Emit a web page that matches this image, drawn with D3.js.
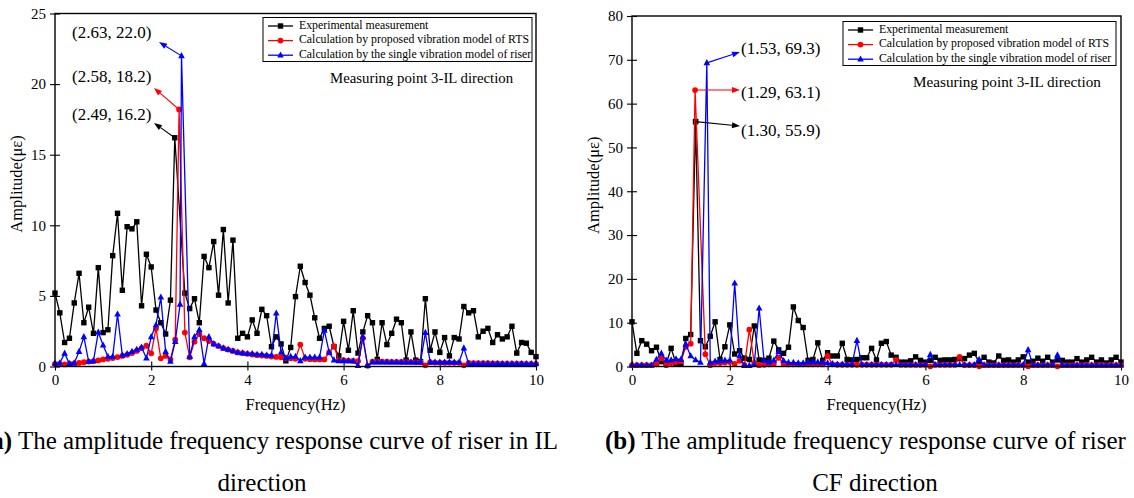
<!DOCTYPE html>
<html>
<head>
<meta charset="utf-8">
<script src="https://cdn.jsdelivr.net/npm/d3@7"></script>
<style>
  body { margin: 0; background: #fff; }
  svg { display: block; }
  text { font-family: "Liberation Serif", "Times New Roman", serif; fill: #000; }
</style>
</head>
<body>
<svg id="chart" width="1134" height="498"></svg>
<script>
// ---- Frequency grid (Hz), 0.1 Hz resolution ----
const freqGrid = d3.range(101).map(i => +(i / 10).toFixed(1));
const xTicks = [0, 2, 4, 6, 8, 10];

const seriesNames = [
  "Experimental measurement",
  "Calculation by proposed vibration model of RTS",
  "Calculation by the single vibration model of riser"
];
const seriesColors = ["#000000", "#ff0000", "#0000ff"];

// ---- (a) IL direction: amplitudes (με) on the grid, null where the peak sample replaces it ----
const ilExperimental = [
  5.2, 3.8, 1.7, 2.0, 4.5, 6.6, 3.1, 4.2, 2.35, 7.0,
  2.4, 2.6, 7.85, 10.85, 5.4, 9.9, 9.75, 10.25, 4.3, 7.95,
  7.05, 4.0, 3.1, 2.3, 4.7, null, null, 5.2, 4.1, 4.8,
  3.1, 7.8, 7.0, 8.85, 5.05, 9.7, 4.5, 8.95, 2.0, 2.35,
  2.1, 3.3, 2.35, 4.05, 3.6, 1.4, 2.1, 1.6, 0.4, 1.35,
  4.95, 7.1, 5.95, 5.05, 3.45, 2.0, 2.7, 2.85, 1.4, 0.75,
  3.2, 1.15, 3.95, 0.95, 2.45, 3.6, 3.1, 0.5, 3.1, 1.55,
  2.35, 3.35, 3.1, 0.45, 2.45, 0.45, 0.35, 4.8, 1.15, 2.45,
  1.0, 2.05, 0.75, 2.05, 1.95, 4.25, 3.8, 3.95, 2.1, 2.5,
  2.7, 1.7, 2.25, 1.95, 2.1, 2.85, 0.95, 1.7, 1.65, 1.0,
  0.7
];
const ilProposed = [
  0.18, 0.18, 0.15, 0.2, 0.2, 0.25, 0.3, 0.35, 0.38, 0.43,
  0.5, 0.55, 0.6, 0.67, 0.75, 0.83, 0.95, 1.1, 1.3, 1.47,
  0.93, 2.7, 0.58, 0.75, 0.5, 1.9, null, 2.4, 0.65, 1.76,
  2.3, 2.0, 1.8, 1.6, 1.45, 1.3, 1.2, 1.1, 1.0, 0.95,
  0.9, 0.85, 0.8, 0.78, 0.75, 0.7, 0.68, 0.65, 0.6, 0.58,
  0.55, 1.55, 0.55, 0.52, 0.5, 0.5, 0.5, 1.0, 1.45, 0.45,
  0.45, 0.42, 0.4, 0.38, 2.0, 0.05, 0.35, 0.35, 0.35, 0.34,
  0.33, 0.33, 0.32, 0.32, 0.31, 0.3, 0.3, 0.08, 0.3, 0.28,
  0.28, 0.27, 0.27, 0.26, 0.26, 0.08, 0.25, 0.24, 0.24, 0.23,
  0.23, 0.22, 0.22, 0.21, 0.21, 0.2, 0.2, 0.2, 0.19, 0.19,
  0.18
];
const ilSingle = [
  0.22, 0.25, 0.93, 0.2, 0.25, 1.05, 2.1, 0.35, 0.4, 2.43,
  1.5, 0.7, 0.7, 3.7, 0.8, 0.9, 1.05, 1.2, 1.36, 0.58,
  2.1, 2.94, 4.9, 1.05, 0.35, 1.76, 4.4, null, 0.7, 2.1,
  2.6, 0.2, 2.1, 1.6, 1.45, 1.3, 1.2, 1.1, 1.0, 0.95,
  0.9, 0.9, 0.85, 0.85, 0.8, 0.8, 3.77, 1.0, 0.6, 0.7,
  0.7, 0.4, 0.65, 0.65, 0.65, 0.65, 2.55, 1.0, 0.45, 0.4,
  0.4, 0.4, 0.38, 0.05, 2.1, 0.05, 0.3, 0.3, 0.3, 0.3,
  0.3, 0.3, 0.3, 0.3, 0.3, 0.3, 0.3, 2.4, 0.3, 0.3,
  0.3, 0.3, 0.3, 0.3, 0.3, 1.3, 0.2, 0.2, 0.2, 0.2,
  0.2, 0.2, 0.2, 0.2, 0.2, 0.2, 0.2, 0.2, 0.2, 0.2,
  0.2
];
// peak samples [frequency, amplitude]
const ilPeaks = [[2.49, 16.2], [2.58, 18.2], [2.63, 22.0]];
const ilYTicks = [0, 5, 10, 15, 20, 25];

// ---- (b) CF direction ----
const cfExperimental = [
  10.2, 3.0, 5.9, 5.1, 3.6, 4.4, 1.1, 0.7, 4.15, 0.7,
  0.7, 6.4, 7.3, 55.9, 5.9, 4.5, 6.9, 10.2, 1.6, 4.5,
  9.5, 2.85, 3.6, 1.9, 1.6, 9.25, 1.5, 1.4, 1.9, 5.8,
  3.8, 3.0, 4.4, 13.6, 10.5, 8.9, 1.4, 1.6, 5.4, 1.4,
  3.15, 2.4, 2.4, 5.3, 1.6, 1.5, 1.6, 2.0, 2.0, 4.15,
  1.5, 5.3, 5.7, 2.6, 2.1, 1.0, 1.0, 1.3, 2.2, 1.4,
  1.0, 1.4, 2.1, 1.4, 1.5, 1.5, 1.6, 1.8, 1.8, 2.6,
  3.0, 1.0, 2.1, 1.0, 0.8, 2.4, 1.4, 1.5, 1.0, 1.5,
  2.2, 1.0, 1.2, 1.9, 1.2, 2.1, 1.0, 1.5, 1.4, 1.0,
  1.0, 1.8, 1.0, 1.5, 2.1, 1.0, 1.5, 0.8, 1.5, 2.1,
  1.0
];
const cfProposed = [
  0.3, 0.3, 0.3, 0.3, 0.3, 0.5, 1.9, 0.3, 0.8, 1.0,
  1.2, 4.5, 5.2, null, null, 2.8, 0.3, 0.8, 0.8, 0.9,
  1.0, 0.6, 1.3, 0.3, 8.4, 0.8, 0.3, 0.4, 0.5, 0.6,
  2.0, 0.6, 0.5, 0.5, 0.5, 0.5, 0.5, 0.5, 0.5, 0.5,
  2.4, 0.5, 0.4, 0.4, 0.4, 0.4, 0.4, 0.4, 0.4, 0.4,
  0.4, 0.4, 0.4, 0.4, 1.5, 0.35, 0.35, 0.35, 0.35, 0.35,
  0.35, 0.05, 0.35, 0.35, 0.35, 0.35, 0.35, 2.2, 0.3, 0.3,
  0.3, 0.05, 0.3, 0.3, 0.3, 0.3, 0.3, 0.3, 0.3, 0.3,
  0.3, 0.05, 0.3, 0.3, 0.3, 0.3, 0.3, 0.05, 0.3, 0.3,
  0.3, 0.3, 0.3, 0.3, 0.3, 0.3, 0.3, 0.3, 0.3, 0.3,
  0.3
];
const cfSingle = [
  0.3, 0.3, 0.3, 0.3, 0.3, 1.6, 3.0, 1.4, 1.5, 1.7,
  1.6, 5.1, 2.4, 1.5, 0.9, null, 0.9, 1.2, 1.2, 1.4,
  1.4, 19.0, 2.4, 0.2, 0.2, 0.4, 13.3, 1.3, 1.0, 1.4,
  3.4, 1.3, 0.9, 0.9, 0.8, 0.8, 1.0, 1.0, 1.0, 0.9,
  0.8, 0.6, 0.5, 0.5, 0.5, 0.5, 5.9, 0.4, 0.4, 0.4,
  0.4, 0.4, 0.4, 0.4, 0.4, 0.4, 0.4, 0.4, 0.4, 0.4,
  0.4, 2.7, 0.4, 0.4, 0.4, 0.4, 0.4, 0.4, 0.4, 0.4,
  0.4, 1.6, 0.35, 0.35, 0.35, 0.35, 0.35, 0.35, 0.35, 0.35,
  0.35, 3.8, 0.35, 0.35, 0.35, 0.35, 0.35, 2.6, 0.3, 0.3,
  0.3, 0.3, 0.3, 0.3, 0.3, 0.3, 0.3, 0.3, 0.3, 0.3,
  0.3
];
const cfPeaks = [[1.30, 55.9], [1.29, 63.1], [1.53, 69.3]];
const cfYTicks = [0, 10, 20, 30, 40, 50, 60, 70, 80];

// ---- helpers ----
const svg = d3.select("#chart");

function buildSeries(values, peak) {
  const pts = freqGrid
    .map((f, i) => [f, values[i]])
    .filter(d => d[1] !== null);
  if (peak) pts.push(peak);
  return pts.sort((a, b) => a[0] - b[0]);
}

function drawMarker(sel, kind, color) {
  if (kind === 0) {
    sel.append("rect").attr("x", -2.7).attr("y", -2.7).attr("width", 5.4).attr("height", 5.4).attr("fill", color);
  } else if (kind === 1) {
    sel.append("circle").attr("r", 2.9).attr("fill", color);
  } else {
    sel.append("path").attr("d", "M0,-3.8L3.3,2.3L-3.3,2.3Z").attr("fill", color);
  }
}

function arrow(g, x1, y1, x2, y2, color) {
  const ang = Math.atan2(y2 - y1, x2 - x1);
  const len = 8, half = 3;
  const bx = x2 - len * Math.cos(ang), by = y2 - len * Math.sin(ang);
  g.append("line").attr("x1", x1).attr("y1", y1).attr("x2", bx).attr("y2", by)
    .attr("stroke", color).attr("stroke-width", 1.1);
  const p1 = [bx + half * Math.sin(ang), by - half * Math.cos(ang)];
  const p2 = [bx - half * Math.sin(ang), by + half * Math.cos(ang)];
  g.append("path").attr("d", `M${x2},${y2}L${p1[0]},${p1[1]}L${p2[0]},${p2[1]}Z`).attr("fill", color);
}

function drawPanel(cfg) {
  const g = svg.append("g");
  const x = d3.scaleLinear().domain([0, 10]).range([cfg.left, cfg.right]);
  const y = d3.scaleLinear().domain([0, cfg.yMax]).range([cfg.bottom, cfg.top]);

  // axes: outward ticks with labels
  const yAxis = g.append("g").attr("transform", `translate(${cfg.left},0)`)
    .call(d3.axisLeft(y).tickValues(cfg.yTicks).tickSize(5).tickPadding(4).tickFormat(d3.format("d")));
  const xAxis = g.append("g").attr("transform", `translate(0,${cfg.bottom})`)
    .call(d3.axisBottom(x).tickValues(xTicks).tickSize(4).tickPadding(4).tickFormat(d3.format("d")));
  [yAxis, xAxis].forEach(a => {
    a.select(".domain").remove();
    a.selectAll("line").attr("stroke", "#000").attr("stroke-width", 1.1);
    a.selectAll("text").style("font-family", '"Liberation Serif", serif').style("font-size", "15px").attr("fill", "#000");
  });
  // inward ticks
  g.append("g").attr("transform", `translate(${cfg.left},0)`)
    .call(d3.axisRight(y).tickValues(cfg.yTicks).tickSize(5).tickFormat(""))
    .call(a => { a.select(".domain").remove(); a.selectAll("line").attr("stroke", "#000").attr("stroke-width", 1.1); });
  g.append("g").attr("transform", `translate(0,${cfg.bottom})`)
    .call(d3.axisTop(x).tickValues(xTicks).tickSize(5).tickFormat(""))
    .call(a => { a.select(".domain").remove(); a.selectAll("line").attr("stroke", "#000").attr("stroke-width", 1.1); });

  // series
  const line = d3.line().x(d => x(d[0])).y(d => y(d[1]));
  cfg.series.forEach((vals, k) => {
    const pts = buildSeries(vals, cfg.peaks[k]);
    g.append("path").datum(pts).attr("d", line).attr("fill", "none")
      .attr("stroke", seriesColors[k]).attr("stroke-width", 1.3).attr("stroke-linejoin", "round");
    const m = g.append("g").selectAll("g").data(pts).join("g")
      .attr("transform", d => `translate(${x(d[0])},${y(d[1])})`);
    m.each(function () { drawMarker(d3.select(this), k, seriesColors[k]); });
  });

  // frame
  g.append("rect").attr("x", cfg.left).attr("y", cfg.top)
    .attr("width", cfg.right - cfg.left).attr("height", cfg.bottom - cfg.top)
    .attr("fill", "none").attr("stroke", "#000").attr("stroke-width", 1.4);

  // peak annotations
  cfg.peaks.forEach((p, k) => {
    const a = cfg.annot[k];
    arrow(g, x(p[0]), y(p[1]), a.ax, a.ay, seriesColors[k]);
    g.append("text").attr("x", a.tx).attr("y", a.ty).attr("dominant-baseline", "middle")
      .style("font-size", "17px").text(`(${p[0].toFixed(2)}, ${p[1].toFixed(1)})`);
  });

  // legend
  const lg = g.append("g");
  lg.append("rect").attr("x", cfg.legend.x).attr("y", cfg.legend.y)
    .attr("width", cfg.legend.w).attr("height", cfg.legend.h)
    .attr("fill", "#fff").attr("stroke", "#000").attr("stroke-width", 1);
  seriesNames.forEach((name, k) => {
    const ry = cfg.legend.y + 8.5 + k * 14.6;
    const lx = cfg.legend.x + 5;
    lg.append("line").attr("x1", lx).attr("x2", lx + 25).attr("y1", ry).attr("y2", ry)
      .attr("stroke", seriesColors[k]).attr("stroke-width", 1.3);
    drawMarker(lg.append("g").attr("transform", `translate(${lx + 12.5},${ry})`), k, seriesColors[k]);
    lg.append("text").attr("x", lx + 31).attr("y", ry).attr("dominant-baseline", "middle")
      .style("font-size", "11.8px").text(name);
  });

  g.append("text").attr("x", cfg.noteX).attr("y", cfg.noteY).attr("dominant-baseline", "middle")
    .style("font-size", cfg.noteSize).text("Measuring point 3-IL direction");

  // axis titles
  g.append("text").attr("transform", `translate(${cfg.left - 37},${(cfg.top + cfg.bottom) / 2 - 6}) rotate(-90)`)
    .attr("text-anchor", "middle").attr("dominant-baseline", "middle")
    .style("font-size", "16.5px").text("Amplitude(με)");
  g.append("text").attr("x", (cfg.left + cfg.right) / 2).attr("y", 406)
    .attr("text-anchor", "middle").attr("dominant-baseline", "middle")
    .style("font-size", "16.5px").text("Frequency(Hz)");
}

drawPanel({
  left: 55, right: 536, top: 13.5, bottom: 366.5, yMax: 25, yTicks: ilYTicks,
  series: [ilExperimental, ilProposed, ilSingle], peaks: ilPeaks,
  annot: [
    { ax: 154, ay: 123, tx: 72, ty: 116 },
    { ax: 154, ay: 88, tx: 72, ty: 78 },
    { ax: 159, ay: 42, tx: 72, ty: 34 }
  ],
  legend: { x: 263, y: 17.5, w: 269, h: 44 },
  noteX: 330, noteY: 80, noteSize: "14.8px"
});

drawPanel({
  left: 632, right: 1121, top: 16, bottom: 366.5, yMax: 80, yTicks: cfYTicks,
  series: [cfExperimental, cfProposed, cfSingle], peaks: cfPeaks,
  annot: [
    { ax: 740, ay: 126, tx: 741, ty: 132 },
    { ax: 740, ay: 90, tx: 741, ty: 94 },
    { ax: 740, ay: 52, tx: 741, ty: 50 }
  ],
  legend: { x: 843, y: 21.5, w: 273, h: 44 },
  noteX: 913, noteY: 84, noteSize: "15.2px"
});

// captions (the panel captions run past the page edges)
const cap = svg.append("g").style("font-size", "25px");
const capA = cap.append("text").attr("x", 558).attr("y", 449).attr("text-anchor", "end");
capA.append("tspan").style("font-weight", "bold").text("(a)");
capA.append("tspan").text(" The amplitude frequency response curve of riser in IL");
cap.append("text").attr("x", 262).attr("y", 491).attr("text-anchor", "middle").text("direction");
const capB = cap.append("text").attr("x", 605).attr("y", 449);
capB.append("tspan").style("font-weight", "bold").text("(b)");
capB.append("tspan").text(" The amplitude frequency response curve of riser");
cap.append("text").attr("x", 875).attr("y", 491).attr("text-anchor", "middle").text("CF direction");
</script>
</body>
</html>
